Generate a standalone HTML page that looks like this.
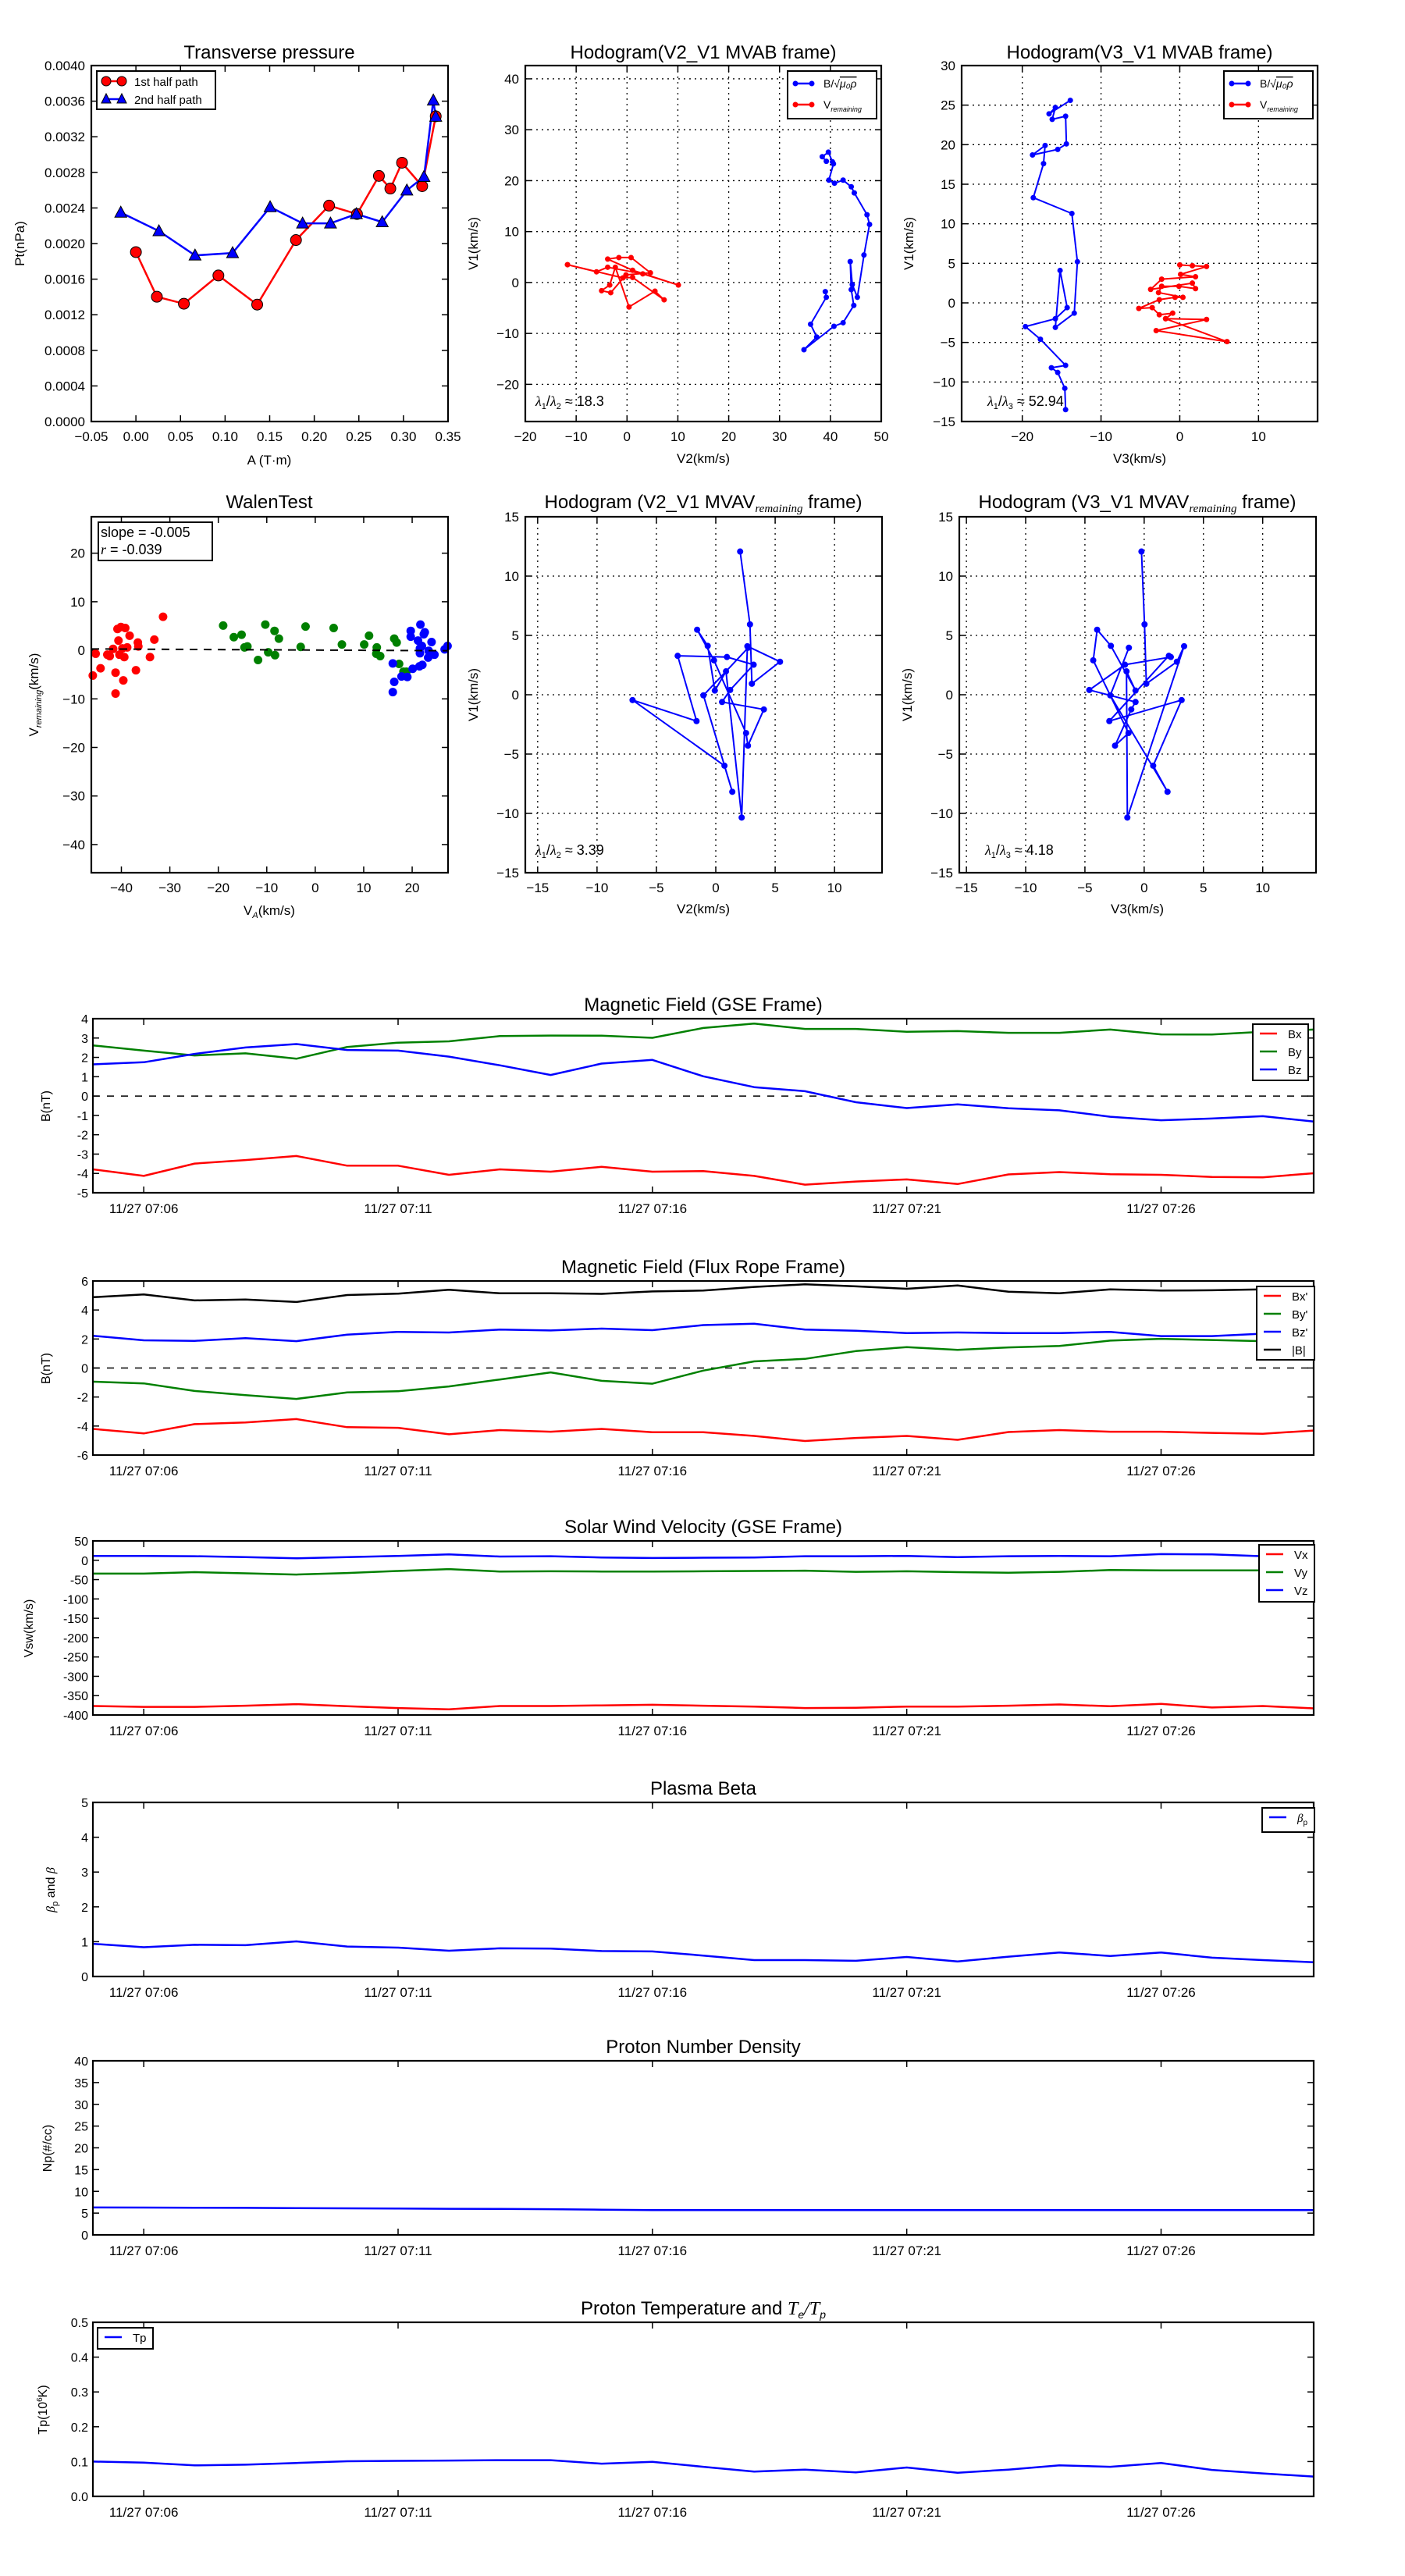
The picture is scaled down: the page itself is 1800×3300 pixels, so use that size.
<!DOCTYPE html>
<html><head><meta charset="utf-8">
<style>
html,body{margin:0;padding:0;background:#fff;}
svg{display:block;font-family:"Liberation Sans",sans-serif;}
</style></head>
<body>
<svg id="fig" xmlns="http://www.w3.org/2000/svg" width="1800" height="3300" viewBox="0 0 1800 3300"></svg>
<script>
// ---------- DATA ----------
const ptA1 = [0.000,0.0235,0.0538,0.0925,0.136,0.1795,0.2166,0.2479,0.2725,0.2853,0.2984,0.321,0.3362];
const ptP1 = [0.001904,0.001402,0.001324,0.001641,0.001314,0.002039,0.002426,0.002332,0.00276,0.002618,0.002908,0.002645,0.00343];
const ptA2 = [-0.017,0.0258,0.0663,0.1084,0.1505,0.1869,0.2182,0.2472,0.2762,0.3038,0.3230,0.3335,0.3362];
const ptP2 = [0.002349,0.00214,0.001867,0.001894,0.00241,0.002227,0.002227,0.002332,0.002241,0.002598,0.00275,0.003609,0.003427];

const hbV2 = [39.0,39.2,36.1,37.3,34.8,40.7,42.5,44.6,44.1,43.9,44.3,45.3,46.6,47.7,47.2,44.7,44.1,42.5,40.8,39.7,40.6,40.4,39.6,38.4,39.2];
const hbV1 = [-1.8,-2.9,-8.2,-10.7,-13.2,-8.6,-7.9,-4.5,-1.4,4.1,-0.4,-2.9,5.4,11.4,13.3,17.6,18.8,20.1,19.5,20.1,23.3,23.7,25.6,24.7,23.8];
const hrV2 = [-11.7,-6.0,-3.8,3.1,10.1,1.1,-3.8,-1.6,0.8,4.6,-0.2,-3.2,-5.0,-3.4,-2.3,0.4,5.5,7.3,1.1,-0.8,-11.7];
const hrV1 = [3.5,2.1,3.0,1.7,-0.5,2.4,4.6,4.9,4.9,1.9,1.5,-2.0,-1.6,-0.5,3.0,-4.8,-1.7,-3.4,1.0,0.9,3.5];

const hbV3 = [-13.9,-16.6,-15.8,-16.2,-14.5,-14.4,-15.5,-18.7,-17.1,-17.3,-18.6,-13.7,-13.0,-13.4,-15.8,-15.2,-14.3,-15.8,-19.6,-17.7,-14.5,-16.3,-15.5,-14.6,-14.5];
const hbW1 = [25.6,23.9,24.7,23.2,23.6,20.1,19.4,18.7,19.9,17.6,13.3,11.3,5.2,-1.3,-3.1,4.1,-0.6,-2.0,-3.0,-4.6,-7.9,-8.2,-8.8,-10.8,-13.5];
const hrV3 = [0.0,1.6,3.4,0.1,2.0,-2.3,-3.7,1.6,2.0,-0.1,-2.3,-2.7,0.4,-0.6,-2.6,-5.2,-3.5,-2.6,-0.9,-1.8,3.4,-3.0,6.0,-1.8];
const hrW1 = [4.8,4.7,4.6,3.6,3.3,3.0,1.7,2.5,1.8,2.1,2.1,1.3,0.7,0.7,0.4,-0.7,-0.6,-1.5,-1.3,-2.0,-2.1,-3.5,-4.9,-2.0];

const walRedX = [-45.9,-45.3,-44.3,-42.9,-42.4,-41.7,-41.2,-41.2,-40.8,-40.6,-40.4,-40.1,-39.8,-39.6,-39.4,-39.2,-38.8,-38.3,-37.0,-36.6,-36.5,-34.1,-33.2,-31.4];
const walRedY = [-5.2,-0.7,-3.7,-0.9,-1.2,0.3,-4.6,-8.9,4.4,2.0,-0.9,4.8,0.4,-6.2,-1.4,4.6,0.6,3.0,-4.1,1.6,0.8,-1.4,2.2,6.9];
const walGrnX = [-19.0,-16.8,-15.2,-14.6,-14.0,-11.8,-10.3,-9.7,-8.4,-8.3,-7.5,-3.0,-2.0,3.8,5.5,10.1,11.1,12.7,12.6,13.4,16.3,16.8,17.3,18.2,18.8];
const walGrnY = [5.1,2.7,3.2,0.6,0.8,-2.0,5.3,-0.4,4.0,-1.0,2.4,0.7,4.9,4.6,1.2,1.2,3.0,0.6,-0.7,-1.2,2.4,1.6,-2.8,-4.4,-4.4];
const walBluX = [16.0,16.3,16.0,17.8,19.0,20.1,21.5,22.1,19.7,19.7,21.7,21.2,22.0,22.4,22.6,21.6,21.6,23.3,24.0,24.6,23.4,26.7,27.3];
const walBluY = [-2.7,-6.5,-8.6,-5.4,-5.5,-3.8,-3.3,-3.0,4.0,2.8,5.3,2.0,0.9,3.3,3.7,-0.6,0.4,-1.5,1.7,-0.9,-0.1,0.2,0.9];
const walSlope = [-0.005];
const walIntercept = [0.05];

const mvV1 = [12.07,5.93,0.93,2.78,4.09,-10.35,1.97,0.35,4.12,5.48,2.90,-3.23,-4.29,-1.24,-0.61,0.40,2.53,3.18,3.28,-2.22,-0.45,-5.98,-8.18,-0.05,3.96];
const mvV2 = [2.05,2.88,3.04,5.41,2.66,2.18,0.86,-0.08,-0.68,-1.57,-0.15,2.55,2.71,4.05,0.53,1.21,3.19,0.94,-3.21,-1.62,-7.01,0.73,1.39,-1.04,2.73];
const mvV3 = [-0.23,0.03,0.18,2.76,3.37,-1.42,-1.49,-0.73,-2.81,-3.97,-4.30,-1.32,-2.46,-1.09,-0.73,-4.63,-1.62,2.25,2.08,-2.94,3.16,0.76,1.97,-2.86,-1.29];

const times = ["07:05","07:06","07:07","07:08","07:09","07:10","07:11","07:12","07:13","07:14","07:15","07:16","07:17","07:18","07:19","07:20","07:21","07:22","07:23","07:24","07:25","07:26","07:27","07:28","07:29"];
const timeTickIdx = [1,6,11,16,21];
const bx = [-3.79,-4.13,-3.49,-3.31,-3.10,-3.60,-3.60,-4.07,-3.79,-3.91,-3.66,-3.91,-3.88,-4.13,-4.58,-4.42,-4.31,-4.55,-4.05,-3.93,-4.04,-4.07,-4.18,-4.20,-3.99];
const by = [2.62,2.35,2.10,2.21,1.93,2.54,2.76,2.83,3.10,3.13,3.12,3.01,3.52,3.75,3.47,3.47,3.32,3.36,3.27,3.27,3.44,3.19,3.18,3.32,3.44];
const bz = [1.64,1.75,2.18,2.51,2.69,2.38,2.35,2.04,1.59,1.09,1.68,1.87,1.02,0.46,0.25,-0.32,-0.62,-0.43,-0.63,-0.74,-1.07,-1.25,-1.16,-1.04,-1.32];
const fx = [-4.20,-4.51,-3.87,-3.75,-3.52,-4.08,-4.12,-4.57,-4.28,-4.39,-4.20,-4.43,-4.43,-4.68,-5.03,-4.82,-4.68,-4.95,-4.41,-4.28,-4.39,-4.39,-4.47,-4.53,-4.31];
const fy = [-0.94,-1.06,-1.58,-1.87,-2.13,-1.68,-1.60,-1.27,-0.79,-0.30,-0.88,-1.08,-0.18,0.46,0.63,1.17,1.44,1.25,1.42,1.52,1.89,2.01,1.93,1.85,2.06];
const fz = [2.22,1.91,1.87,2.06,1.85,2.30,2.49,2.45,2.65,2.59,2.72,2.61,2.96,3.05,2.65,2.57,2.41,2.45,2.41,2.41,2.49,2.20,2.20,2.37,2.45];
const fb = [4.88,5.07,4.66,4.72,4.55,5.03,5.13,5.40,5.15,5.15,5.11,5.28,5.34,5.59,5.77,5.63,5.46,5.69,5.26,5.15,5.42,5.34,5.36,5.42,5.46];
const vx = [-376.7,-379,-379,-375.9,-372,-377.4,-382.1,-385.2,-376.7,-376.7,-375.1,-373.6,-375.9,-378.2,-382.1,-381.3,-378.2,-378.2,-375.9,-372.8,-377.4,-371.3,-380.6,-376.7,-382.9];
const vy = [-34.6,-34.6,-30.7,-33.8,-36.9,-33,-27.6,-22.9,-29.1,-28.4,-29.1,-29.1,-28.4,-27.6,-26.8,-29.9,-28.4,-30.7,-32.2,-29.9,-25.3,-26,-26,-26,-26];
const vz = [11.2,11.2,10.4,8.1,5,8.1,11.2,15.1,9.7,10.4,7.3,5.8,6.6,7.3,10.4,10.4,11.2,8.1,10.4,11.2,10.4,15.9,15.1,10.4,16.6];
const betaP = [0.94,0.84,0.91,0.90,1.01,0.86,0.83,0.74,0.81,0.80,0.73,0.72,0.60,0.47,0.47,0.45,0.56,0.43,0.57,0.69,0.59,0.69,0.54,0.47,0.41];
const np = [6.3,6.28,6.25,6.2,6.15,6.1,6.05,6.0,5.95,5.9,5.8,5.7,5.7,5.7,5.7,5.7,5.7,5.7,5.7,5.7,5.7,5.7,5.7,5.7,5.7];
const tp = [0.100,0.097,0.089,0.091,0.096,0.101,0.102,0.103,0.104,0.104,0.094,0.099,0.085,0.071,0.077,0.069,0.083,0.068,0.077,0.089,0.085,0.096,0.076,0.066,0.057];

// ---------- HELPERS ----------
const NS = 'http://www.w3.org/2000/svg';
const svg = document.getElementById('fig');
function mk(tag, attrs, parent){
  const e = document.createElementNS(NS, tag);
  for (const k in attrs) e.setAttribute(k, attrs[k]);
  (parent || svg).appendChild(e);
  return e;
}
function txt(x, y, s, size, anchor, parent, extra){
  const t = mk('text', Object.assign({x:x, y:y, 'font-size':size, 'text-anchor':anchor||'middle', fill:'#000'}, extra||{}), parent);
  t.textContent = s;
  return t;
}
function makeAx(x0,y0,w,h,xmin,xmax,ymin,ymax,name){
  const g = mk('g', {});
  
  
  return {g:g,x0:x0,y0:y0,w:w,h:h,
    sx:v=>x0+(v-xmin)/(xmax-xmin)*w,
    sy:v=>y0+h-(v-ymin)/(ymax-ymin)*h};
}
function fmt(v, d, minus){
  let s = v.toFixed(d);
  if (v < 0 && minus) s = '\u2212' + s.slice(1);
  return s;
}
function ticks(ax, xt, yt, xd, yd, minus, grid, fs){
  const g = ax.g;
  xt.forEach(v=>{
    const x = ax.sx(v);
    if (grid) mk('line',{x1:x,x2:x,y1:ax.y0,y2:ax.y0+ax.h,stroke:'#000','stroke-width':1.3,'stroke-dasharray':'2,5'},g);
    mk('line',{x1:x,x2:x,y1:ax.y0+ax.h,y2:ax.y0+ax.h-8,stroke:'#000','stroke-width':1.5},g);
    mk('line',{x1:x,x2:x,y1:ax.y0,y2:ax.y0+8,stroke:'#000','stroke-width':1.5},g);
    const t = txt(x, ax.y0+ax.h+25, fmt(v,xd,minus), fs||17, 'middle', g);
    
  });
  yt.forEach(v=>{
    const y = ax.sy(v);
    if (grid) mk('line',{x1:ax.x0,x2:ax.x0+ax.w,y1:y,y2:y,stroke:'#000','stroke-width':1.3,'stroke-dasharray':'2,5'},g);
    mk('line',{x1:ax.x0,x2:ax.x0+8,y1:y,y2:y,stroke:'#000','stroke-width':1.5},g);
    mk('line',{x1:ax.x0+ax.w,x2:ax.x0+ax.w-8,y1:y,y2:y,stroke:'#000','stroke-width':1.5},g);
    const t = txt(ax.x0-8, y+6, fmt(v,yd,minus), fs||17, 'end', g);
    
  });
}
function frame(ax){
  const r = mk('rect',{x:ax.x0,y:ax.y0,width:ax.w,height:ax.h,fill:'none',stroke:'#000','stroke-width':2.2},ax.g);
  
}
function poly(ax, xs, ys, color, sw, name){
  const pts = xs.map((v,i)=>ax.sx(v).toFixed(1)+','+ax.sy(ys[i]).toFixed(1)).join(' ');
  const p = mk('polyline',{points:pts,fill:'none',stroke:color,'stroke-width':sw,'stroke-linejoin':'round'},ax.g);
  
  
  return p;
}
function dots(ax, xs, ys, color, r, name, stroke){
  xs.forEach((v,i)=>{
    const c = mk('circle',{cx:ax.sx(v),cy:ax.sy(ys[i]),r:r,fill:color,stroke:stroke||'none','stroke-width':1},ax.g);
    
    
  });
}
function tris(ax, xs, ys, color, s, name){
  xs.forEach((v,i)=>{
    const x=ax.sx(v), y=ax.sy(ys[i]);
    const p = mk('polygon',{points:`${x},${y-s} ${x-s*0.95},${y+s*0.75} ${x+s*0.95},${y+s*0.75}`,fill:color,stroke:'#000','stroke-width':1},ax.g);
    
    
  });
}
function title(x, y, s, g, size){
  const t = txt(x, y, s, size||24, 'middle', g);
  
  return t;
}
function ylabel(x, y, s, g, size){
  const t = txt(x, y, s, size||17, 'middle', g, {transform:`rotate(-90 ${x} ${y})`});
  
  return t;
}
function xlabel(x, y, s, g, size){
  const t = txt(x, y, s, size||17, 'middle', g);
  
  return t;
}

// ---------- Transverse pressure ----------
(function(){
  const ax = makeAx(117,84,457,456,-0.05,0.35,0,0.004,'transverse-pressure-chart');
  const xt=[]; for(let i=0;i<=8;i++) xt.push(-0.05+i*0.05);
  const yt=[]; for(let i=0;i<=10;i++) yt.push(i*0.0004);
  ticks(ax, xt, yt, 2, 4, true, false, 17);
  poly(ax, ptA1, ptP1, '#ff0000', 2.5, 'first-half-path-line');
  poly(ax, ptA2, ptP2, '#0000ff', 2.5, 'second-half-path-line');
  dots(ax, ptA1, ptP1, '#ff0000', 7, 'first-half-marker', '#000');
  tris(ax, ptA2, ptP2, '#0000ff', 8, 'second-half-marker');
  frame(ax);
  title(345, 75, 'Transverse pressure', ax.g);
  ylabel(31, 312, 'Pt(nPa)', ax.g);
  xlabel(345, 595, 'A (T\u00B7m)', ax.g);
  const lg = mk('g',{},ax.g);
  
  
  mk('rect',{x:124,y:91,width:152,height:49,fill:'#fff',stroke:'#000','stroke-width':2},lg);
  mk('line',{x1:136,x2:156,y1:104,y2:104,stroke:'#f00','stroke-width':2.5},lg);
  mk('circle',{cx:136,cy:104,r:6,fill:'#f00',stroke:'#000'},lg);
  mk('circle',{cx:156,cy:104,r:6,fill:'#f00',stroke:'#000'},lg);
  txt(172,110,'1st half path',15,'start',lg);
  mk('line',{x1:136,x2:156,y1:127,y2:127,stroke:'#00f','stroke-width':2.5},lg);
  mk('polygon',{points:'136,120 130,132 142,132',fill:'#00f',stroke:'#000'},lg);
  mk('polygon',{points:'156,120 150,132 162,132',fill:'#00f',stroke:'#000'},lg);
  txt(172,133,'2nd half path',15,'start',lg);
})();

function hodoLegend(g, x, y){
  const lg = mk('g',{},g);
  
  
  mk('rect',{x:x,y:y,width:114,height:61,fill:'#fff',stroke:'#000','stroke-width':2},lg);
  mk('line',{x1:x+10,x2:x+31,y1:y+16,y2:y+16,stroke:'#00f','stroke-width':2.5},lg);
  mk('circle',{cx:x+10,cy:y+16,r:3.5,fill:'#00f'},lg);
  mk('circle',{cx:x+31,cy:y+16,r:3.5,fill:'#00f'},lg);
  const t1 = txt(x+46,y+21,'',14,'start',lg);
  
  t1.innerHTML = 'B/\u221A<tspan font-style="italic" text-decoration="overline">\u03BC\u2080\u03C1</tspan>';
  mk('line',{x1:x+10,x2:x+31,y1:y+43,y2:y+43,stroke:'#f00','stroke-width':2.5},lg);
  mk('circle',{cx:x+10,cy:y+43,r:3.5,fill:'#f00'},lg);
  mk('circle',{cx:x+31,cy:y+43,r:3.5,fill:'#f00'},lg);
  const t2 = txt(x+46,y+48,'',14,'start',lg);
  
  t2.innerHTML = 'V<tspan font-size="9" font-style="italic" dy="4">remaining</tspan>';
}
function lambdaText(g, x, y, a, b, val){
  const t = txt(x, y, '', 18, 'start', g);
  
  t.innerHTML = `<tspan font-style="italic" font-family="Liberation Serif">\u03BB</tspan><tspan font-size="11" dy="4">${a}</tspan><tspan dy="-4">/</tspan><tspan font-style="italic" font-family="Liberation Serif">\u03BB</tspan><tspan font-size="11" dy="4">${b}</tspan><tspan dy="-4"> \u2248 ${val}</tspan>`;
}

// ---------- Hodogram V2_V1 MVAB ----------
(function(){
  const ax = makeAx(673,84,456,456,-20,50,-27.3,42.6,'hodogram-v2-v1-mvab');
  ticks(ax,[-20,-10,0,10,20,30,40,50],[-20,-10,0,10,20,30,40],0,0,true,true,17);
  poly(ax,hbV2,hbV1,'#0000ff',2,'b-hodogram-line');
  dots(ax,hbV2,hbV1,'#0000ff',3.5,'b-hodogram-point');
  poly(ax,hrV2,hrV1,'#ff0000',2,'v-remaining-line');
  dots(ax,hrV2,hrV1,'#ff0000',3.5,'v-remaining-point');
  frame(ax);
  hodoLegend(ax.g,1009,91);
  lambdaText(ax.g,686,520,1,2,'18.3');
  title(901,75,'Hodogram(V2_V1 MVAB frame)',ax.g);
  ylabel(612,312,'V1(km/s)',ax.g);
  xlabel(901,593,'V2(km/s)',ax.g);
})();

// ---------- Hodogram V3_V1 MVAB ----------
(function(){
  const ax = makeAx(1232,84,456,456,-27.7,17.5,-15,30,'hodogram-v3-v1-mvab');
  ticks(ax,[-20,-10,0,10],[-15,-10,-5,0,5,10,15,20,25,30],0,0,true,true,17);
  poly(ax,hbV3,hbW1,'#0000ff',2,'b-hodogram-line');
  dots(ax,hbV3,hbW1,'#0000ff',3.5,'b-hodogram-point');
  poly(ax,hrV3,hrW1,'#ff0000',2,'v-remaining-line');
  dots(ax,hrV3,hrW1,'#ff0000',3.5,'v-remaining-point');
  frame(ax);
  hodoLegend(ax.g,1568,91);
  lambdaText(ax.g,1265,520,1,3,'52.94');
  title(1460,75,'Hodogram(V3_V1 MVAB frame)',ax.g);
  ylabel(1170,312,'V1(km/s)',ax.g);
  xlabel(1460,593,'V3(km/s)',ax.g);
})();

// ---------- Walen test ----------
(function(){
  const ax = makeAx(117,662,457,456,-46.2,27.4,-45.8,27.5,'walen-test-chart');
  ticks(ax,[-40,-30,-20,-10,0,10,20],[-40,-30,-20,-10,0,10,20],0,0,true,false,17);
  dots(ax,walRedX,walRedY,'#ff0000',5.5,'walen-point-red');
  dots(ax,walGrnX,walGrnY,'#008000',5.5,'walen-point-green');
  dots(ax,walBluX,walBluY,'#0000ff',5.5,'walen-point-blue');
  const fx0=-46.2, fx1=27.4;
  const fit = mk('line',{x1:ax.sx(fx0),y1:ax.sy(walSlope[0]*fx0+walIntercept[0]),x2:ax.sx(fx1),y2:ax.sy(walSlope[0]*fx1+walIntercept[0]),stroke:'#000','stroke-width':2,'stroke-dasharray':'10,8'},ax.g);
  
  
  frame(ax);
  const bx0 = mk('g',{},ax.g);
  
  
  mk('rect',{x:126,y:669,width:146,height:49,fill:'#fff',stroke:'#000','stroke-width':2},bx0);
  txt(129,688,'slope = -0.005',18,'start',bx0);
  const rt = txt(129,710,'',18,'start',bx0);
  rt.innerHTML = '<tspan font-style="italic" font-family="Liberation Serif">r</tspan> = -0.039';
  title(345,651,'WalenTest',ax.g);
  const yl = ylabel(49,890,'',ax.g,17);
  yl.innerHTML = 'V<tspan font-size="11" font-style="italic" dy="4">remaining</tspan><tspan dy="-4">(km/s)</tspan>';
  const xl = xlabel(345,1172,'',ax.g);
  xl.innerHTML = 'V<tspan font-size="11" font-style="italic" dy="4">A</tspan><tspan dy="-4">(km/s)</tspan>';
})();

// ---------- Hodogram MVAV ----------
(function(){
  const ax = makeAx(673,662,457,456,-16.04,14.0,-15,15,'hodogram-v2-v1-mvav');
  ticks(ax,[-15,-10,-5,0,5,10],[-15,-10,-5,0,5,10,15],0,0,true,true,17);
  poly(ax,mvV2,mvV1,'#0000ff',2,'mvav-hodogram-line');
  dots(ax,mvV2,mvV1,'#0000ff',4,'mvav-hodogram-point');
  frame(ax);
  lambdaText(ax.g,686,1095,1,2,'3.39');
  const t = title(901,651,'',ax.g);
  t.innerHTML = 'Hodogram (V2_V1 MVAV<tspan font-size="15" font-style="italic" font-family="Liberation Serif" dy="5">remaining</tspan><tspan dy="-5"> frame)</tspan>';
  ylabel(612,890,'V1(km/s)',ax.g);
  xlabel(901,1170,'V2(km/s)',ax.g);
})();
(function(){
  const ax = makeAx(1229,662,457,456,-15.6,14.5,-15,15,'hodogram-v3-v1-mvav');
  ticks(ax,[-15,-10,-5,0,5,10],[-15,-10,-5,0,5,10,15],0,0,true,true,17);
  poly(ax,mvV3,mvV1,'#0000ff',2,'mvav-hodogram-line');
  dots(ax,mvV3,mvV1,'#0000ff',4,'mvav-hodogram-point');
  frame(ax);
  lambdaText(ax.g,1262,1095,1,3,'4.18');
  const t = title(1457,651,'',ax.g);
  t.innerHTML = 'Hodogram (V3_V1 MVAV<tspan font-size="15" font-style="italic" font-family="Liberation Serif" dy="5">remaining</tspan><tspan dy="-5"> frame)</tspan>';
  ylabel(1168,890,'V1(km/s)',ax.g);
  xlabel(1457,1170,'V3(km/s)',ax.g);
})();

// ---------- Time series ----------
function tsPanel(cfg){
  const ax = makeAx(119,cfg.top,1564,223,0,times.length-1,cfg.ymin,cfg.ymax,cfg.name);
  const g = ax.g;
  timeTickIdx.forEach(i=>{
    const x = ax.sx(i);
    mk('line',{x1:x,x2:x,y1:ax.y0+ax.h,y2:ax.y0+ax.h-8,stroke:'#000','stroke-width':1.5},g);
    mk('line',{x1:x,x2:x,y1:ax.y0,y2:ax.y0+8,stroke:'#000','stroke-width':1.5},g);
    const t = txt(x, ax.y0+ax.h+26, '11/27 '+times[i], 17, 'middle', g);
    
  });
  cfg.yticks.forEach(v=>{
    const y = ax.sy(v);
    mk('line',{x1:ax.x0,x2:ax.x0+8,y1:y,y2:y,stroke:'#000','stroke-width':1.5},g);
    mk('line',{x1:ax.x0+ax.w,x2:ax.x0+ax.w-8,y1:y,y2:y,stroke:'#000','stroke-width':1.5},g);
    const t = txt(ax.x0-6, y+6, cfg.yfmt ? cfg.yfmt(v) : String(v), 16, 'end', g);
    
  });
  if (cfg.zero){
    const z = mk('line',{x1:ax.x0,x2:ax.x0+ax.w,y1:ax.sy(0),y2:ax.sy(0),stroke:'#000','stroke-width':1.5,'stroke-dasharray':'9,9'},g);
    
  }
  const idx = times.map((_,i)=>i);
  cfg.series.forEach(s=>poly(ax, idx, s.data, s.color, 2.5, s.name));
  frame(ax);
  title(901, cfg.top-10, '', g).innerHTML = cfg.title;
  const yl = ylabel(cfg.ylx, cfg.top+112, '', g, 16);
  yl.innerHTML = cfg.ylabel;
  if (cfg.legend){
    const L = cfg.legend;
    const lg = mk('g',{},g);
    
    
    mk('rect',{x:L.x,y:L.y,width:L.w,height:L.h,fill:'#fff',stroke:'#000','stroke-width':2},lg);
    cfg.series.forEach((s,i)=>{
      const yy = L.y+12+i*23;
      mk('line',{x1:L.x+9,x2:L.x+31,y1:yy,y2:yy,stroke:s.color,'stroke-width':2.5},lg);
      const t = txt(L.x+45,yy+6,'',15,'start',lg);
      
      t.innerHTML = s.label;
    });
  }
  return ax;
}
tsPanel({name:'magnetic-field-gse-chart',top:1305,ymin:-5,ymax:4,yticks:[-5,-4,-3,-2,-1,0,1,2,3,4],zero:true,
  title:'Magnetic Field (GSE Frame)',ylabel:'B(nT)',ylx:64,
  series:[{data:bx,color:'#ff0000',name:'bx-line',label:'Bx'},{data:by,color:'#008000',name:'by-line',label:'By'},{data:bz,color:'#0000ff',name:'bz-line',label:'Bz'}],
  legend:{x:1605,y:1312,w:71,h:72}});
tsPanel({name:'magnetic-field-flux-rope-chart',top:1641,ymin:-6,ymax:6,yticks:[-6,-4,-2,0,2,4,6],zero:true,
  title:'Magnetic Field (Flux Rope Frame)',ylabel:'B(nT)',ylx:64,
  series:[{data:fx,color:'#ff0000',name:'bx-prime-line',label:"Bx'"},{data:fy,color:'#008000',name:'by-prime-line',label:"By'"},{data:fz,color:'#0000ff',name:'bz-prime-line',label:"Bz'"},{data:fb,color:'#000000',name:'b-magnitude-line',label:'|B|'}],
  legend:{x:1610,y:1648,w:74,h:94}});
tsPanel({name:'solar-wind-velocity-chart',top:1974,ymin:-400,ymax:50,yticks:[-400,-350,-300,-250,-200,-150,-100,-50,0,50],zero:false,
  title:'Solar Wind Velocity (GSE Frame)',ylabel:'Vsw(km/s)',ylx:42,
  series:[{data:vx,color:'#ff0000',name:'vx-line',label:'Vx'},{data:vy,color:'#008000',name:'vy-line',label:'Vy'},{data:vz,color:'#0000ff',name:'vz-line',label:'Vz'}],
  legend:{x:1613,y:1979,w:71,h:73}});
tsPanel({name:'plasma-beta-chart',top:2309,ymin:0,ymax:5,yticks:[0,1,2,3,4,5],zero:false,
  title:'Plasma Beta',ylabel:'<tspan font-style="italic" font-family="Liberation Serif">\u03B2</tspan><tspan font-size="11" dy="4">p</tspan><tspan dy="-4"> and </tspan><tspan font-style="italic" font-family="Liberation Serif">\u03B2</tspan>',ylx:70,
  series:[{data:betaP,color:'#0000ff',name:'beta-p-line',label:'<tspan font-style="italic" font-family="Liberation Serif">\u03B2</tspan><tspan font-size="10" dy="4">p</tspan>'}],
  legend:{x:1617,y:2316,w:67,h:31}});
tsPanel({name:'proton-density-chart',top:2640,ymin:0,ymax:40,yticks:[0,5,10,15,20,25,30,35,40],zero:false,
  title:'Proton Number Density',ylabel:'Np(#/cc)',ylx:66,
  series:[{data:np,color:'#0000ff',name:'np-line',label:'Np'}]});
tsPanel({name:'proton-temperature-chart',top:2975,ymin:0,ymax:0.5,yticks:[0,0.1,0.2,0.3,0.4,0.5],zero:false,yfmt:v=>v.toFixed(1),
  title:'Proton Temperature and <tspan font-style="italic" font-family="Liberation Serif">T</tspan><tspan font-size="14" font-style="italic" dy="5">e</tspan><tspan dy="-5" font-style="italic" font-family="Liberation Serif">/T</tspan><tspan font-size="14" font-style="italic" dy="5">p</tspan>',
  ylabel:'Tp(10<tspan font-size="10" dy="-6">6</tspan><tspan dy="6">K)</tspan>',ylx:60,
  series:[{data:tp,color:'#0000ff',name:'tp-line',label:'Tp'}],
  legend:{x:125,y:2982,w:71,h:27}});
</script>
</body></html>
